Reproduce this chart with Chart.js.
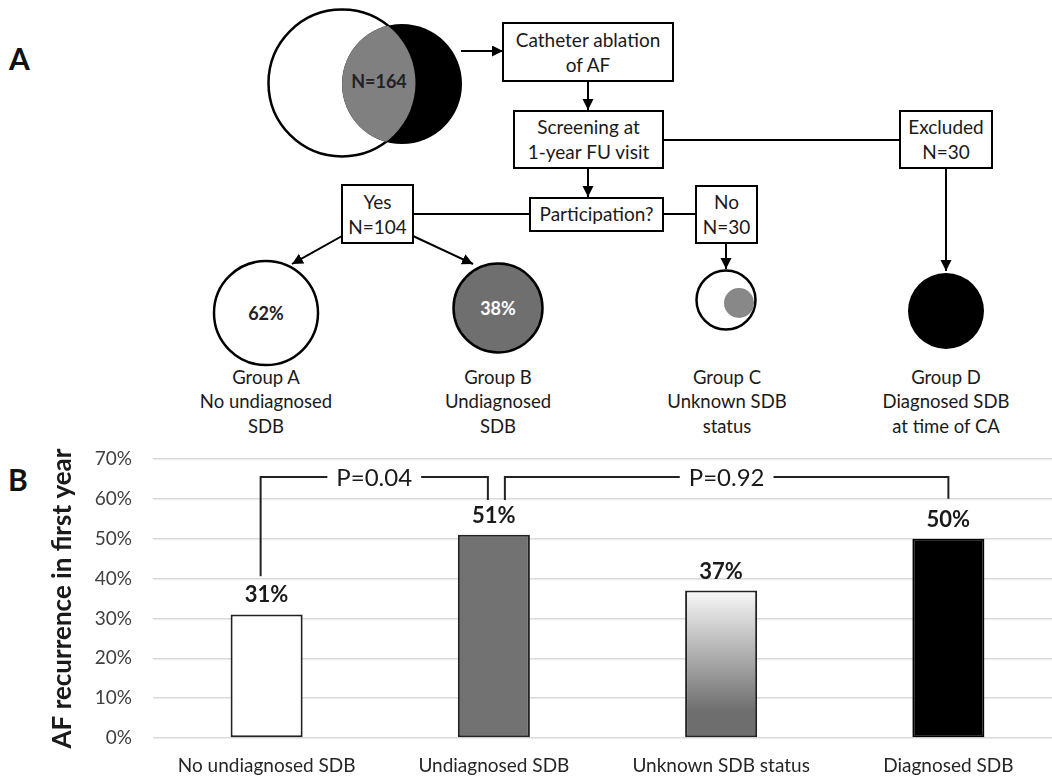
<!DOCTYPE html>
<html>
<head>
<meta charset="utf-8">
<script src="https://cdn.jsdelivr.net/npm/chart.js@4.4.1/dist/chart.umd.min.js"></script>
<style>
  html, body { margin: 0; padding: 0; background: #fff; width: 1052px; height: 776px; overflow: hidden; }
  #panelA { position: absolute; left: 0; top: 0; }
  #chartBox { position: absolute; left: 0; top: 440px; width: 1062px; height: 336px; }
  .panel-letter { position: absolute; font: bold 30px Lato, sans-serif; color: #111; }
</style>
</head>
<body>
<svg id="panelA" width="1052" height="440" xmlns="http://www.w3.org/2000/svg"></svg>
<div class="panel-letter" style="left:9px; top:40px;">A</div>
<div class="panel-letter" style="left:8px; top:461px;">B</div>
<div id="chartBox"><canvas id="chart"></canvas></div>

<script>
// ---- panel B data ----
const categories = ["No undiagnosed SDB", "Undiagnosed SDB", "Unknown SDB status", "Diagnosed SDB"];
const recurrence = [31, 51, 37, 50];
const yTicks = [0, 10, 20, 30, 40, 50, 60, 70];

// significance brackets (category index + value on y axis)
const pLabels = ["P=0.04", "P=0.92"];
const bracketFrom = [0, 1];
const bracketTo = [1, 3];
const bracketTop = [65.5, 65.5];
const bracketFromEnd = [40.6, 59.7];
const bracketToEnd = [59.7, 60];

// ---- panel A data ----
const cohortN = 164;
const participatedN = 104;
const notParticipatedN = 30;
const excludedN = 30;
const groupNames = ["Group A", "Group B", "Group C", "Group D"];
const groupLines = [["No undiagnosed", "SDB"], ["Undiagnosed", "SDB"], ["Unknown SDB", "status"], ["Diagnosed SDB", "at time of CA"]];
const groupShare = ["62%", "38%"];

const barFills = ["#ffffff", "#727272", "gradient", "#000000"];
const textColor = "#1a1a1a";
const fontFamily = "Lato, 'Open Sans', sans-serif";

// ---------- flowchart (panel A) ----------
const svg = document.getElementById("panelA");
const NS = "http://www.w3.org/2000/svg";

function el(tag, attrs, text) {
  const e = document.createElementNS(NS, tag);
  for (const k in attrs) e.setAttribute(k, attrs[k]);
  if (text !== undefined) e.textContent = text;
  svg.appendChild(e);
  return e;
}

function label(x, y, str, size, weight, fill) {
  return el("text", {
    x: x, y: y, "text-anchor": "middle", "font-family": fontFamily,
    "font-size": size, "font-weight": weight || "normal", fill: fill || textColor
  }, str);
}

function box(x1, y1, x2, y2, lines, baselines) {
  el("rect", { x: x1, y: y1, width: x2 - x1, height: y2 - y1, fill: "#fff", stroke: "#000", "stroke-width": 2 });
  lines.forEach((t, i) => label((x1 + x2) / 2, baselines[i], t, 19));
}

function line(x1, y1, x2, y2, arrow) {
  const a = { x1: x1, y1: y1, x2: x2, y2: y2, stroke: "#000", "stroke-width": 2 };
  if (arrow) a["marker-end"] = "url(#head)";
  el("line", a);
}

const defs = el("defs", {});
defs.innerHTML =
  '<marker id="head" markerUnits="userSpaceOnUse" markerWidth="12" markerHeight="12" refX="11" refY="5.5" orient="auto">' +
  '<path d="M0,0 L11,5.5 L0,11 z" fill="#000"/></marker>' +
  '<clipPath id="whiteClip"><circle cx="342" cy="83" r="73.5"/></clipPath>';

// venn of the whole cohort
el("circle", { cx: 342, cy: 83, r: 73.5, fill: "#fff", stroke: "#000", "stroke-width": 2.5 });
el("circle", { cx: 402, cy: 84, r: 60, fill: "#000" });
el("circle", { cx: 402, cy: 84, r: 60, fill: "#808080", "clip-path": "url(#whiteClip)" });
label(379, 88, "N=" + cohortN, 18, "bold", "#222");

line(461, 51, 503, 51, true);
box(503, 23, 673, 81, ["Catheter ablation", "of AF"], [47, 72]);
line(588, 81, 588, 110, true);
box(514, 111, 663, 168, ["Screening at", "1-year FU visit"], [134, 159]);
line(663, 140, 900, 140);
box(900, 111, 992, 168, ["Excluded", "N=" + excludedN], [134, 159]);
line(946, 168, 946, 271, true);
line(588, 168, 588, 197, true);
line(413, 214, 530, 214);
line(663, 214, 696, 214);
box(530, 198, 663, 231, ["Participation?"], [221]);
box(342, 185, 413, 243, ["Yes", "N=" + participatedN], [209, 234]);
box(696, 186, 757, 243, ["No", "N=" + notParticipatedN], [209, 234]);
line(342, 236, 292, 264, true);
line(413, 236, 473, 264, true);
line(726, 243, 726, 269, true);

// group circles
el("circle", { cx: 266, cy: 313, r: 52, fill: "#fff", stroke: "#000", "stroke-width": 2.5 });
label(266, 320, groupShare[0], 18, "bold", "#222");
el("circle", { cx: 498, cy: 308, r: 44.5, fill: "#6f6f6f", stroke: "#000", "stroke-width": 2.5 });
label(498, 315, groupShare[1], 18, "bold", "#fff");
el("circle", { cx: 726, cy: 300, r: 29.5, fill: "#fff", stroke: "#000", "stroke-width": 2.5 });
el("circle", { cx: 739, cy: 303, r: 15, fill: "#888" });
el("circle", { cx: 946, cy: 311, r: 38, fill: "#000" });

const groupX = [266, 498, 727, 946];
groupNames.forEach((g, i) => {
  label(groupX[i], 384, g, 18.5);
  groupLines[i].forEach((t, j) => label(groupX[i], 408 + j * 25, t, 18.5));
});

// ---------- bar chart (panel B) ----------
Chart.defaults.font.family = fontFamily;
Chart.defaults.color = textColor;

const valueLabels = {
  id: "valueLabels",
  afterDatasetsDraw(chart) {
    const ctx = chart.ctx;
    const meta = chart.getDatasetMeta(0);
    ctx.save();
    ctx.font = "bold 22px " + fontFamily;
    ctx.fillStyle = textColor;
    ctx.textAlign = "center";
    ctx.textBaseline = "alphabetic";
    meta.data.forEach((bar, i) => {
      ctx.fillText(recurrence[i] + "%", bar.x, bar.y - 12);
    });
    ctx.restore();
  }
};

const brackets = {
  id: "brackets",
  afterDatasetsDraw(chart) {
    const ctx = chart.ctx;
    const x = chart.scales.x;
    const y = chart.scales.y;
    const shiftFrom = [-6, 11];
    const shiftTo = [-6, 0];
    ctx.save();
    ctx.strokeStyle = "#222";
    ctx.lineWidth = 2;
    ctx.font = "24px " + fontFamily;
    ctx.fillStyle = textColor;
    ctx.textAlign = "center";
    ctx.textBaseline = "middle";
    pLabels.forEach((txt, i) => {
      const x1 = x.getPixelForValue(bracketFrom[i]) + shiftFrom[i];
      const x2 = x.getPixelForValue(bracketTo[i]) + shiftTo[i];
      const yt = y.getPixelForValue(bracketTop[i]);
      const mid = (x1 + x2) / 2;
      const half = ctx.measureText(txt).width / 2 + 9;
      ctx.beginPath();
      ctx.moveTo(x1, y.getPixelForValue(bracketFromEnd[i]));
      ctx.lineTo(x1, yt);
      ctx.lineTo(mid - half, yt);
      ctx.moveTo(mid + half, yt);
      ctx.lineTo(x2, yt);
      ctx.lineTo(x2, y.getPixelForValue(bracketToEnd[i]));
      ctx.stroke();
      ctx.fillText(txt, mid, yt + 1);
    });
    ctx.restore();
  }
};

function barColor(context) {
  const fill = barFills[context.dataIndex];
  if (fill !== "gradient") return fill;
  const chart = context.chart;
  if (!chart.chartArea) return "#aaaaaa";
  const y = chart.scales.y;
  const g = chart.ctx.createLinearGradient(0, y.getPixelForValue(recurrence[context.dataIndex]), 0, y.getPixelForValue(0));
  g.addColorStop(0, "#f8f8f8");
  g.addColorStop(0.82, "#6e6e6e");
  g.addColorStop(1, "#6e6e6e");
  return g;
}

new Chart(document.getElementById("chart"), {
  type: "bar",
  data: {
    labels: categories,
    datasets: [{
      data: recurrence,
      backgroundColor: barColor,
      borderColor: ["#222", "#222", "#222", "#000"],
      borderWidth: 2,
      borderSkipped: false,
      barPercentage: 0.317,
      categoryPercentage: 1
    }]
  },
  options: {
    responsive: true,
    maintainAspectRatio: false,
    animation: false,
    layout: { padding: { top: 19, left: 0, right: 0, bottom: 0 } },
    plugins: { legend: { display: false }, tooltip: { enabled: false } },
    scales: {
      x: {
        grid: { display: false, drawTicks: false },
        border: { display: false },
        ticks: { font: { size: 19 }, color: "#262626", padding: 16, maxRotation: 0, autoSkip: false },
        afterFit: (s) => { s.height = 38; }
      },
      y: {
        min: 0,
        max: 70,
        afterBuildTicks: (s) => { s.ticks = yTicks.map((v) => ({ value: v })); },
        ticks: { font: { size: 19 }, color: "#404040", padding: 21, callback: (v) => v + "%" },
        grid: { color: "#d9d9d9", lineWidth: 1.5, drawTicks: false },
        border: { display: false },
        title: {
          display: true,
          text: "AF recurrence in first year",
          font: { size: 26, weight: "bold" },
          color: textColor,
          padding: { top: 47, bottom: 0 }
        },
        afterFit: (s) => {
          s.width = 153;
          s.paddingTop = 0;
          s.paddingBottom = 0;
        }
      }
    }
  },
  plugins: [valueLabels, brackets]
});
</script>
</body>
</html>
